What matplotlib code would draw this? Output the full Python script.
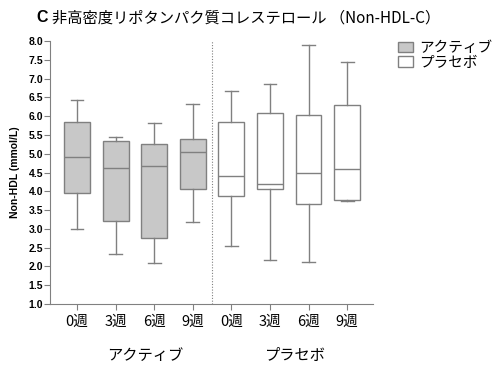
import matplotlib
matplotlib.use('Agg')
import matplotlib.pyplot as plt
from matplotlib.patches import Patch
from matplotlib.ticker import FormatStrFormatter

plt.rcParams['font.family'] = ['Noto Sans CJK JP', 'DejaVu Sans']

weeks = ['0週', '3週', '6週', '9週']
groups = ['アクティブ', 'プラセボ']

# box statistics (mmol/L)
active_low = [2.99, 2.32, 2.09, 3.17]
active_q1 = [3.96, 3.20, 2.77, 4.07]
active_med = [4.90, 4.62, 4.66, 5.04]
active_q3 = [5.84, 5.35, 5.27, 5.40]
active_high = [6.44, 5.45, 5.83, 6.31]

placebo_low = [2.55, 2.18, 2.12, 3.74]
placebo_q1 = [3.87, 4.07, 3.66, 3.77]
placebo_med = [4.41, 4.20, 4.48, 4.59]
placebo_q3 = [5.84, 6.08, 6.03, 6.29]
placebo_high = [6.66, 6.86, 7.89, 7.43]

edge = '#808080'
active_fill = '#c8c8c8'


def make_stats(low, q1, med, q3, high):
    return [dict(whislo=a, q1=b, med=c, q3=d, whishi=e, fliers=[])
            for a, b, c, d, e in zip(low, q1, med, q3, high)]


fig = plt.figure(figsize=(5.0, 3.69), dpi=100)
ax = fig.add_axes([0.10, 0.176, 0.646, 0.713])

line = dict(color=edge, linewidth=1.0)
for stats, pos, fill in [
        (make_stats(active_low, active_q1, active_med, active_q3, active_high), [1, 2, 3, 4], active_fill),
        (make_stats(placebo_low, placebo_q1, placebo_med, placebo_q3, placebo_high), [5, 6, 7, 8], 'white')]:
    ax.bxp(stats, positions=pos, widths=0.67, patch_artist=True, showfliers=False,
           boxprops=dict(facecolor=fill, edgecolor=edge, linewidth=1.0),
           medianprops=line, whiskerprops=line, capprops=line)

ax.axvline(4.5, color=edge, linestyle=(0, (1, 1.5)), linewidth=0.8)

ax.set_xlim(0.30, 8.67)
ax.set_ylim(1.0, 8.0)
ax.set_yticks([1.0 + 0.5 * i for i in range(15)])
ax.yaxis.set_major_formatter(FormatStrFormatter('%.1f'))
for lab in ax.get_yticklabels():
    lab.set_fontfamily('Liberation Sans')
    lab.set_fontweight('bold')
    lab.set_fontsize(7.5)

ax.set_xticks(range(1, 9))
ax.set_xticklabels(weeks + weeks, fontsize=10.5)
ax.tick_params(axis='both', colors=edge, length=4, width=0.8, labelcolor='black')
ax.tick_params(axis='y', pad=1)

for side in ['top', 'right']:
    ax.spines[side].set_visible(False)
for side in ['left', 'bottom']:
    ax.spines[side].set_color(edge)
    ax.spines[side].set_linewidth(0.8)

ax.set_ylabel('Non-HDL (mmol/L)', fontfamily='Liberation Sans', fontweight='bold',
              fontsize=7.5, labelpad=6)

ax.text(2.76, -0.195, groups[0], transform=ax.get_xaxis_transform(),
        ha='center', va='center', fontsize=11)
ax.text(6.65, -0.195, groups[1], transform=ax.get_xaxis_transform(),
        ha='center', va='center', fontsize=11)

fig.text(0.072, 0.952, 'C', fontfamily='Liberation Sans', fontweight='bold',
         fontsize=11.5, va='center')
fig.text(0.103, 0.952, '非高密度リポタンパク質コレステロール （Non-HDL-C）',
         fontsize=11, va='center')

handles = [Patch(facecolor=active_fill, edgecolor=edge, label=groups[0]),
           Patch(facecolor='white', edgecolor=edge, label=groups[1])]
fig.legend(handles=handles, loc='upper left', bbox_to_anchor=(0.785, 0.905),
           frameon=False, fontsize=10.5, handlelength=1.0, handleheight=0.7,
           handletextpad=0.4, labelspacing=0.05, borderaxespad=0)

fig.savefig('out.png', dpi=100)
